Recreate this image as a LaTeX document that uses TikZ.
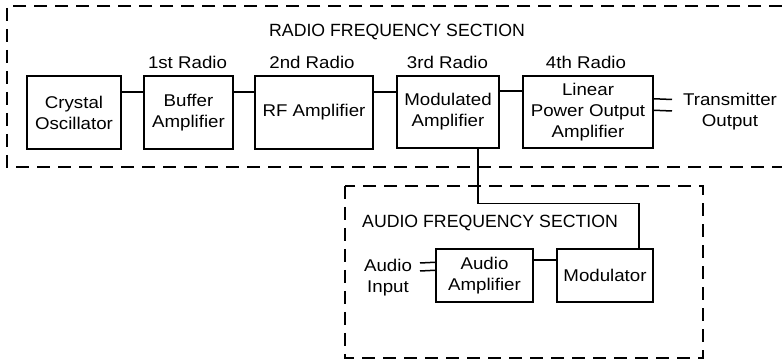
\documentclass[tikz,border=0pt]{standalone}
\usepackage{fontspec}
\setmainfont[FakeStretch=1.1]{Liberation Sans}
\newfontfamily\titlefont{Liberation Sans}
\begin{document}
\begin{tikzpicture}[x=1pt,y=-1pt,
  txt/.style={font=\fontsize{17}{21}\selectfont, align=center, inner sep=0pt},
  ttl/.style={font=\titlefont\fontsize{17.7}{21}\selectfont, inner sep=0pt},
  blk/.style={txt, draw, line width=1.5pt},
  sect/.style={draw, line width=1.5pt, dash pattern=on 13pt off 8pt},
  wire/.style={line width=1.5pt}]
\useasboundingbox (0,0) rectangle (782,363);
% sections
\draw[sect] (782,6) -- (7,6) -- (7,167) -- (782,167);
\draw[sect] (345,186) rectangle (703,358);
\node[ttl, anchor=west] (rfs) at (269,32) {RADIO FREQUENCY SECTION};
\node[ttl, anchor=west] (afs) at (362,223) {AUDIO FREQUENCY SECTION};
% blocks
\node[blk, minimum width=94pt, minimum height=73pt] (crys) at (74,112.5) {Crystal\\Oscillator};
\node[blk, minimum width=89pt, minimum height=73pt] (buf) at (188.5,112.5) {Buffer\\Amplifier};
\node[blk, minimum width=118pt, minimum height=73pt] (rf) at (314,112.5) {RF Amplifier};
\node[blk, minimum width=102pt, minimum height=72pt] (modamp) at (448,112) {Modulated\\Amplifier};
\node[blk, minimum width=130pt, minimum height=72pt] (lin) at (588,112) {Linear\\Power Output\\Amplifier};
\node[blk, minimum width=97pt, minimum height=53pt] (aamp) at (484.5,275.5) {Audio\\Amplifier};
\node[blk, minimum width=96pt, minimum height=53pt] (modu) at (605,275.5) {Modulator};
% labels
\node[txt] (l1) at (187.5,62) {1st Radio};
\node[txt] (l2) at (312,62) {2nd Radio};
\node[txt] (l3) at (447.5,62) {3rd Radio};
\node[txt] (l4) at (586,62) {4th Radio};
\node[txt] (tout) at (730,112) {Transmitter\\Output};
\node[txt] (ain) at (388,277.5) {Audio\\Input};
% wires
\draw[wire] ([yshift=-17pt]crys.north east) -- ([yshift=-17pt]buf.north west);
\draw[wire] ([yshift=-17pt]buf.north east) -- ([yshift=-17pt]rf.north west);
\draw[wire] ([yshift=-17pt]rf.north east) -- ([yshift=-17pt]modamp.north west);
\draw[wire] ([yshift=-16pt]modamp.north east) -- ([yshift=-16pt]lin.north west);
\coordinate (t1) at (672,99.5);
\coordinate (t2) at (672,111);
\draw[wire] ([yshift=-23.5pt]lin.north east) -- (t1);
\draw[wire] ([yshift=-35pt]lin.north east) -- (t2);
\coordinate (a1) at (420,263);
\coordinate (a2) at (420,271);
\draw[wire] ([yshift=-14pt]aamp.north west) -- (a1);
\draw[wire] ([yshift=-22pt]aamp.north west) -- (a2);
\draw[wire] ([yshift=-12pt]aamp.north east) -- ([yshift=-12pt]modu.north west);
\draw[wire] ([xshift=30pt]modamp.south) -- ++(0,55) -| ([xshift=34pt]modu.north);
\end{tikzpicture}
\end{document}
